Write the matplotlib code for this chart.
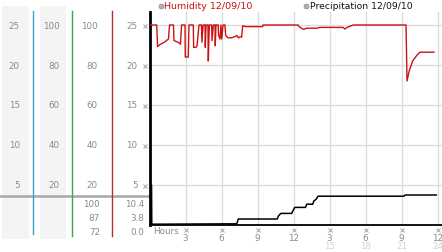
import matplotlib
matplotlib.use("Agg")
import matplotlib.pyplot as plt

# ---------------- data ----------------
hum_hours = [0, 0.6, 0.67, 0.875, 1.29, 1.58, 1.67, 2.0, 2.04, 2.375, 2.58, 2.67, 2.96, 2.98, 3.23, 3.29,
             3.65, 3.68, 3.875, 3.96, 4.125, 4.33, 4.375, 4.46, 4.625, 4.65, 4.71, 4.875, 4.9, 4.98,
             5.18, 5.21, 5.32, 5.46, 5.48, 5.54, 5.73, 5.75, 5.875, 5.96, 6.02, 6.125, 6.29, 6.35,
             6.54, 6.85, 7.125, 7.27, 7.4, 7.54, 7.68, 7.77, 8.04, 9.43, 9.46, 12.375, 12.46, 12.83,
             13.1, 13.375, 13.93, 14.2, 16.125, 16.29, 16.46, 16.98, 21.375, 21.42, 21.46, 21.65,
             21.93, 22.27, 22.54, 23.7]
hum_vals = [25, 25, 22.3, 22.55, 22.9, 23.25, 25, 25, 23.05, 22.85, 22.6, 25, 25, 21.0, 21.0, 25,
            25, 22.2, 22.2, 22.4, 25, 25, 22.85, 25, 25, 22.2, 25, 25, 20.5, 25,
            25, 23.05, 25, 25, 22.4, 25, 25, 23.7, 23.25, 25, 23.25, 25, 25, 23.7,
            23.4, 23.4, 23.55, 23.7, 23.4, 23.5, 23.5, 24.9, 24.8, 24.8, 25, 25, 24.8, 24.45,
            24.6, 24.6, 24.6, 24.7, 24.7, 24.5, 24.7, 25, 25, 21.6, 18.0, 19.3,
            20.5, 21.2, 21.6, 21.6]

pre_hours = [0, 0.04, 0.17, 0.19, 7.27, 7.4, 10.65, 10.75, 10.95, 11.85, 11.96, 12.1, 13.0, 13.1,
             13.6, 13.7, 13.9, 14.05, 21.2, 21.3, 23.9]
pre_vals = [10.4, 0.1, 5.0, 0.1, 0.15, 0.75, 0.75, 1.15, 1.45, 1.45, 1.8, 2.2, 2.2, 2.6,
            2.6, 3.0, 3.25, 3.6, 3.6, 3.75, 3.75]

y_ticks = [5, 10, 15, 20, 25]
x_ticks = [3, 6, 9, 12, 15, 18, 21, 24]
x_labels = ["3", "6", "9", "12", "3", "6", "9", "12"]
x_labels2 = {15: "15", 18: "18", 21: "21", 24: "24"}

col1_labels = ["25", "20", "15", "10", "5"]
col2_labels = ["100", "80", "60", "40", "20"]
col3_labels = ["100", "80", "60", "40", "20"]
col4_labels = ["25", "20", "15", "10", "5"]
col3_extra = ["100", "87", "72"]
col4_extra = ["10.4", "3.8", "0.0"]

title_hum = "Humidity 12/09/10"
title_pre = "Precipitation 12/09/10"

# ---------------- figure ----------------
W, H = 442, 253
fig = plt.figure(figsize=(W / 100, H / 100), dpi=100)
fig.patch.set_facecolor("white")

FONT = "DejaVu Sans"
FS = 6.3
GRAY = "#8a8a8a"
MCOL = "#a0a0a0"

# overlay axes in pixel coords for left panel
ov = fig.add_axes([0, 0, 1, 1])
ov.set_xlim(0, W)
ov.set_ylim(H, 0)
ov.axis("off")

def mark(px, py):
    ov.plot([px], [py], marker="x", ms=2.6, mew=0.7, color=MCOL, zorder=4)

# gray bands
ov.add_patch(plt.Rectangle((2, 7), 27, 233, color="#f4f4f4", lw=0, zorder=0))
ov.add_patch(plt.Rectangle((40, 7), 26, 233, color="#f4f4f4", lw=0, zorder=0))
# coloured lines
ov.plot([33, 33], [12, 235], color="#3aa0c8", lw=1.0, zorder=2)
ov.plot([72.3, 72.3], [12, 237], color="#3aa83a", lw=1.0, zorder=2)
ov.plot([111.7, 111.7], [12, 237], color="#b83030", lw=1.0, zorder=2)
# horizontal gray separator
ov.plot([0, 149], [197, 197], color="#a8a8a8", lw=1.8, zorder=1)

def val_to_py(v):
    return 226 - 8 * v

for i, v in enumerate(y_ticks[::-1]):
    py = val_to_py(v)
    ov.text(20, py, col1_labels[i], ha="right", va="center", fontsize=FS, color=GRAY, family=FONT)
    ov.text(59.5, py, col2_labels[i], ha="right", va="center", fontsize=FS, color=GRAY, family=FONT)
    ov.text(97.5, py, col3_labels[i], ha="right", va="center", fontsize=FS, color=GRAY, family=FONT)
    ov.text(137.5, py, col4_labels[i], ha="right", va="center", fontsize=FS, color=GRAY, family=FONT)
    mark(145.3, py + 1)

for i, py in enumerate([204.5, 218.5, 232.5]):
    ov.text(100, py, col3_extra[i], ha="right", va="center", fontsize=FS, color=GRAY, family=FONT)
    ov.text(144, py, col4_extra[i], ha="right", va="center", fontsize=FS, color=GRAY, family=FONT)

# titles
ov.plot([160.5], [6.5], marker="o", ms=3.6, color="#b0b0b0", mec="#909090", mew=0.5)
ov.text(164.5, 6.5, title_hum, ha="left", va="center", fontsize=FS + 0.5, color="#cc1111", family=FONT)
ov.plot([306], [6.5], marker="o", ms=3.6, color="#b0b0b0", mec="#909090", mew=0.5)
ov.text(310, 6.5, title_pre, ha="left", va="center", fontsize=FS + 0.4, color="#111111", family=FONT)

# ---------------- main axes ----------------
x0 = 149.5
ax = fig.add_axes([x0 / W, 1 - 226 / H, 1 - x0 / W, (226 - 13) / H])
ax.set_facecolor("none")
ax.set_xlim(0, (W - x0) / 12)
ax.set_ylim(0, 213 / 8)
for v in y_ticks:
    ax.axhline(v, color="#dcdcdc", lw=1.0, zorder=0)
for h in x_ticks:
    ax.axvline(h, color="#dcdcdc", lw=1.0, zorder=0)

ax.plot(hum_hours, hum_vals, color="#cc1111", lw=1.0, zorder=3)
ax.plot(pre_hours, pre_vals, color="black", lw=1.1, zorder=3)

for s in ["top", "right"]:
    ax.spines[s].set_visible(False)
ax.spines["left"].set_linewidth(2.0)
ax.spines["bottom"].set_linewidth(1.3)
ax.set_xticks([])
ax.set_yticks([])

# x tick labels drawn in pixel coords
for h, lab in zip(x_ticks, x_labels):
    px = x0 + 12 * h
    mark(px, 231)
    ov.text(px, 238.5, lab, ha="center", va="center", fontsize=FS, color=GRAY, family=FONT)
    if h in x_labels2:
        ov.text(px, 247, x_labels2[h], ha="center", va="center", fontsize=FS, color="#d4d4d4", family=FONT)
ov.text(153, 232, "Hours", ha="left", va="center", fontsize=FS, color=GRAY, family=FONT)

fig.savefig("out.png", dpi=100)
